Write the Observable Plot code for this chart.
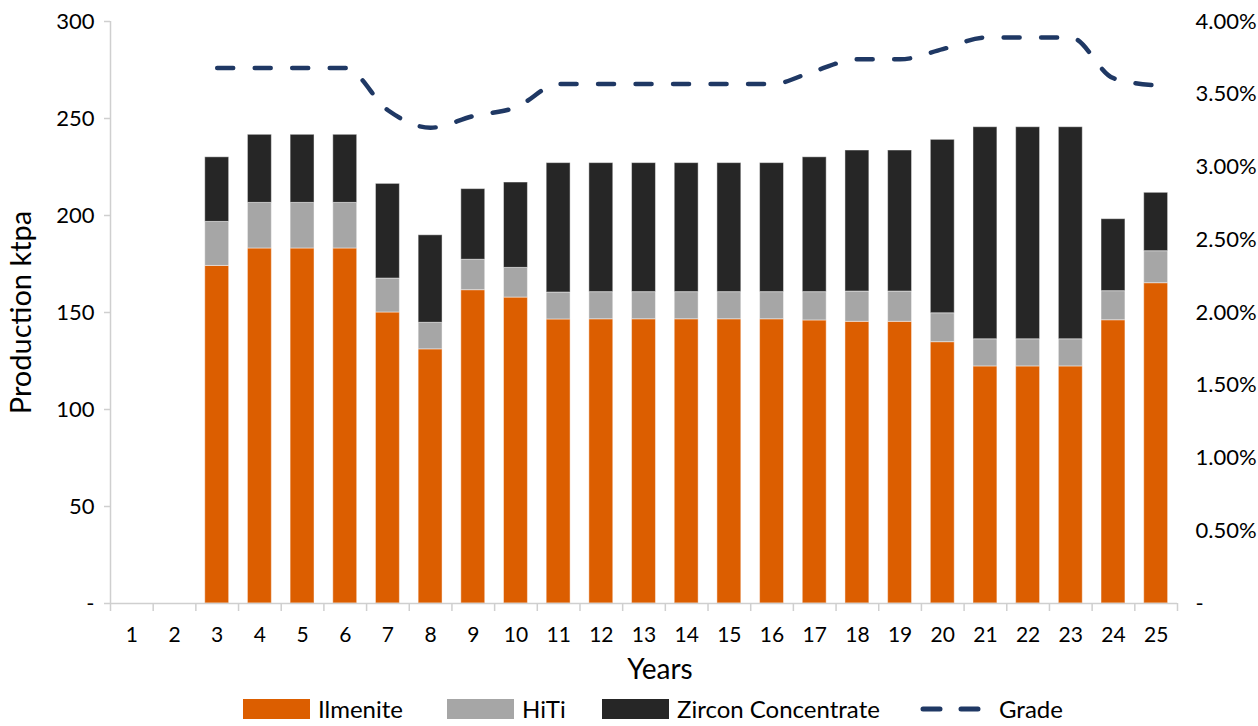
<!DOCTYPE html>
<html>
<head>
<meta charset="utf-8">
<script src="https://cdn.jsdelivr.net/npm/d3@7"></script>
<script src="https://cdn.jsdelivr.net/npm/@observablehq/plot@0.6"></script>
<style>
  html, body { margin: 0; padding: 0; overflow: hidden; background: #fff; }
  body { width: 1258px; height: 726px; position: relative; font-family: Lato, "Noto Sans", sans-serif; }
  #legend { position: absolute; left: 0; top: 695px; width: 1258px; height: 28px; font-size: 24px; line-height: 28px; color: #000; }
  .item { position: absolute; top: 0; height: 28px; display: flex; align-items: center; white-space: nowrap; }
  .sw { display: inline-block; width: 67px; height: 20px; margin-right: 8px; }
</style>
</head>
<body>
<div id="chart"></div>
<div id="legend"></div>
<script>
const years = [1,2,3,4,5,6,7,8,9,10,11,12,13,14,15,16,17,18,19,20,21,22,23,24,25];
const ilmenite = [0,0,174,183,183,183,150,131,161.5,157.7,146.4,146.5,146.5,146.5,146.5,146.5,145.9,145.2,145.2,134.7,122.2,122.2,122.2,146,165.1];
const hiti = [0,0,22.7,23.5,23.5,23.5,17.5,13.7,15.7,15.3,13.9,14,14,14,14,14,14.6,15.6,15.6,14.9,14,14,14,15,16.5];
const zircon = [0,0,33.3,35.1,35.1,35.1,48.8,45.1,36.4,44,66.7,66.5,66.5,66.5,66.5,66.5,69.5,72.7,72.7,89.4,109.3,109.3,109.3,37.1,30.1];
const grade = [null,null,3.68,3.68,3.68,3.68,3.39,3.27,3.35,3.41,3.57,3.57,3.57,3.57,3.57,3.57,3.66,3.74,3.74,3.81,3.89,3.89,3.89,3.61,3.56];
const seriesNames = ["Ilmenite", "HiTi", "Zircon Concentrate"];
const seriesColors = ["#dc5e00", "#a6a6a6", "#262626"];
const gradeName = "Grade";
const gradeColor = "#1f3864";
const leftTicks = [0, 50, 100, 150, 200, 250, 300];
const gradeTicks = [0, 0.5, 1, 1.5, 2, 2.5, 3, 3.5, 4];
const yMax = 300, gradeMax = 4;

const W = 1258, H = 695, mL = 110, mR = 81, mT = 21, mB = H - 603;
const step = (W - mL - mR) / years.length;

const bars = [];
years.forEach((yr, i) => {
  [ilmenite, hiti, zircon].forEach((arr, s) => bars.push({year: yr, series: seriesNames[s], value: arr[i]}));
});
const gradeData = years.map((yr, i) => ({year: yr, grade: grade[i]})).filter(d => d.grade != null);

const axisColor = "#cfcfcf";

const plot = Plot.plot({
  width: W, height: H,
  marginLeft: mL, marginRight: mR, marginTop: mT, marginBottom: mB,
  style: {fontFamily: "Lato, 'Noto Sans', sans-serif", fontSize: "22px", color: "#000", background: "#fff"},
  x: {type: "band", domain: years, paddingInner: 0.44, paddingOuter: 0.22, align: 0.5, round: false},
  y: {domain: [0, yMax]},
  color: {domain: seriesNames, range: seriesColors},
  marks: [
    Plot.barY(bars, {x: "year", y: "value", fill: "series", order: seriesNames, stroke: "#ffffff", strokeOpacity: 0.45, strokeWidth: 1}),
    Plot.ruleY([0], {stroke: axisColor, strokeWidth: 1.5}),
    Plot.ruleX([years[0]], {y1: 0, y2: yMax, dx: -step / 2, stroke: axisColor, strokeWidth: 1.5}),
    Plot.ruleX(years, {y1: 0, y2: 0, dx: -step / 2, insetBottom: -8, stroke: axisColor, strokeWidth: 1.5}),
    Plot.ruleX([years[years.length - 1]], {y1: 0, y2: 0, dx: step / 2, insetBottom: -8, stroke: axisColor, strokeWidth: 1.5}),
    Plot.lineY(gradeData, {x: "year", y: d => d.grade * yMax / gradeMax, stroke: gradeColor, strokeWidth: 4.5, strokeDasharray: "16,21.5", strokeLinecap: "round", curve: "monotone-x"}),
    Plot.axisY(leftTicks, {anchor: "left", tickSize: 6, tickPadding: 10, stroke: axisColor, strokeWidth: 1.5, tickFormat: d => d === 0 ? "-" : String(d), label: null, fontSize: 22}),
    Plot.axisY(gradeTicks.map(g => g * yMax / gradeMax), {anchor: "right", tickSize: 0, tickPadding: 18, tickFormat: d => d === 0 ? "-" : (d * gradeMax / yMax).toFixed(2) + "%", label: null, fontSize: 22}),
    Plot.axisX({tickSize: 0, tickPadding: 24, label: null, fontSize: 21}),
    Plot.text(["Years"], {frameAnchor: "bottom", dy: 75, dx: 16, fontSize: 28}),
    Plot.text(["Production ktpa"], {frameAnchor: "left", textAnchor: "middle", rotate: -90, dx: -89, fontSize: 29})
  ]
});
document.getElementById("chart").appendChild(plot);

// Legend
const legend = document.getElementById("legend");
const legendItems = [
  {name: seriesNames[0], color: seriesColors[0], left: 243},
  {name: seriesNames[1], color: seriesColors[1], left: 447},
  {name: seriesNames[2], color: seriesColors[2], left: 602},
];
legendItems.forEach(it => {
  const d = document.createElement("div");
  d.className = "item";
  d.style.left = it.left + "px";
  d.innerHTML = `<span class="sw" style="background:${it.color}"></span><span>${it.name}</span>`;
  legend.appendChild(d);
});
const g = document.createElement("div");
g.className = "item";
g.style.left = "918px";
g.innerHTML = `<svg width="72" height="20" style="margin-right:9px"><line x1="5" y1="10" x2="67" y2="10" stroke="${gradeColor}" stroke-width="5" stroke-linecap="round" stroke-dasharray="17,21"/></svg><span>${gradeName}</span>`;
legend.appendChild(g);
</script>
</body>
</html>
